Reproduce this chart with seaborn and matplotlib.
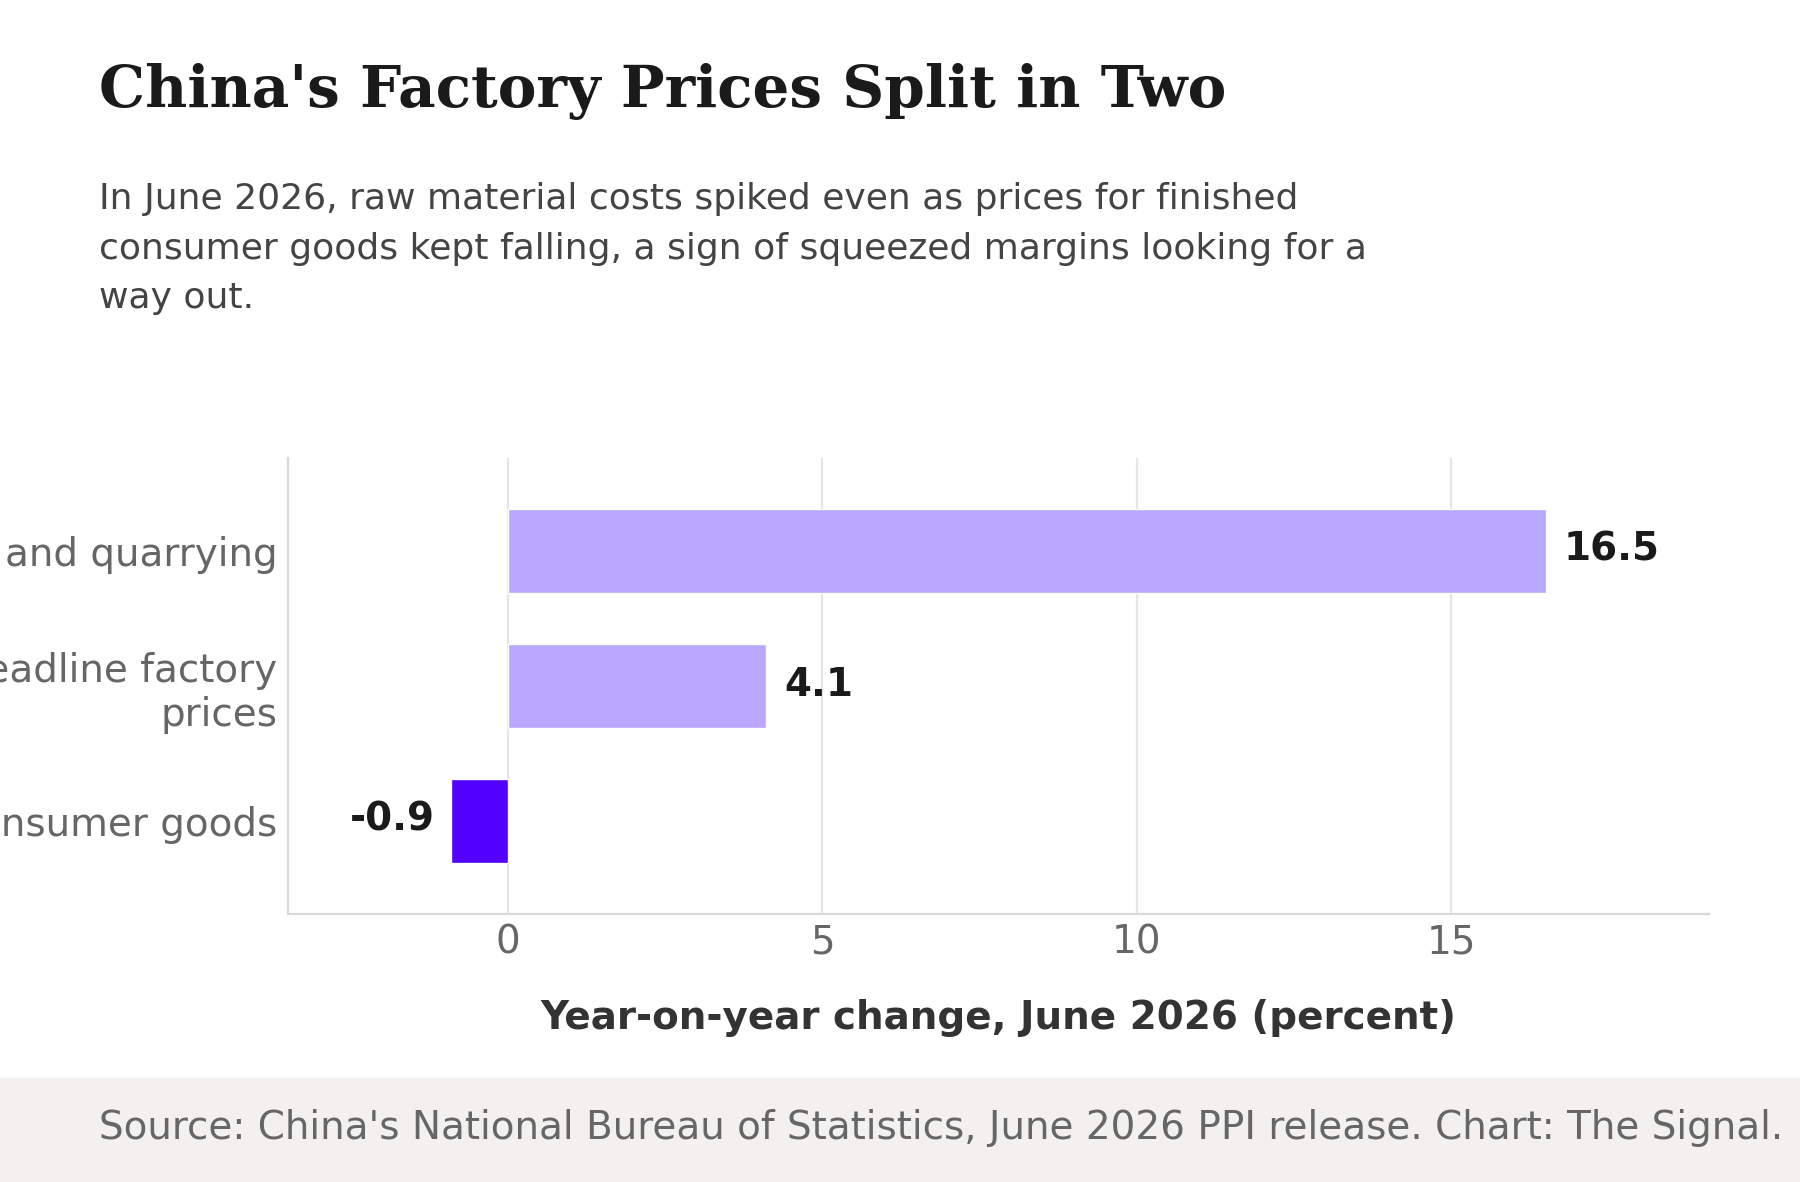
import pandas as pd
import matplotlib.pyplot as plt
import seaborn as sns

categories = ["Mining and quarrying", "Headline factory\nprices", "Consumer goods"]
values = [16.5, 4.1, -0.9]
bar_colors = ["#B8A9FF", "#B8A9FF", "#5200FF"]
xticks = [0, 5, 10, 15]

df = pd.DataFrame({"category": categories, "value": values})

sns.set_theme(style="white")
plt.rcParams['font.family'] = ['DejaVu Sans']

fig = plt.figure(figsize=(18, 11.82), dpi=100)
ax = fig.add_axes([288/1800, 1-914/1182, (1709-288)/1800, (914-458)/1182])

sns.barplot(data=df, x="value", y="category", hue="category", palette=bar_colors,
            orient="h", width=0.62, legend=False, ax=ax, saturation=1)

ax.set_xlim(-3.5, 19.1)
ax.set_ylim(2.69, -0.69)
ax.set_xticks(xticks)
ax.set_xticklabels([str(t) for t in xticks])
ax.grid(axis="x", color="#e6e6e6", linewidth=1.6)
ax.grid(axis="y", visible=False)
ax.set_axisbelow(True)
for s in ["top", "right"]:
    ax.spines[s].set_visible(False)
for s in ["left", "bottom"]:
    ax.spines[s].set_color("#d9d9d6")
    ax.spines[s].set_linewidth(1.6)
ax.tick_params(axis="both", length=0, labelsize=28, labelcolor="#666666")
ax.tick_params(axis="x", pad=7)
ax.tick_params(axis="y", pad=7.5)
ax.set_ylabel("")
ax.set_xlabel("Year-on-year change, June 2026 (percent)", fontsize=28,
              fontweight="bold", color="#333333", labelpad=27)

# value labels next to bar ends
for i, v in enumerate(values):
    if v >= 0:
        ax.annotate(f"{v}", (v, i), xytext=(13, 1), textcoords="offset points",
                    ha="left", va="center", fontsize=28, fontweight="bold", color="#1a1a1a")
    else:
        ax.annotate(f"{v}", (v, i), xytext=(-12, 1), textcoords="offset points",
                    ha="right", va="center", fontsize=28, fontweight="bold", color="#1a1a1a")

fig.text(99/1800, 1-107/1182, "China's Factory Prices Split in Two", family="DejaVu Serif",
         fontweight="bold", fontsize=41.8, color="#1a1a1a", ha="left", va="baseline")
fig.text(99/1800, 1-182/1182,
         "In June 2026, raw material costs spiked even as prices for finished\n"
         "consumer goods kept falling, a sign of squeezed margins looking for a\n"
         "way out.", fontsize=26, color="#444444", ha="left", va="top",
         linespacing=1.58)

fig.patches.append(plt.Rectangle((0, 0), 1, (1182-1078)/1182, transform=fig.transFigure,
                                 color="#f2f1f0", zorder=0))
fig.text(99/1800, 1-1128/1182,
         "Source: China's National Bureau of Statistics, June 2026 PPI release. Chart: The Signal.",
         fontsize=28, color="#666666", ha="left", va="center")

fig.savefig("out.png", dpi=100)
